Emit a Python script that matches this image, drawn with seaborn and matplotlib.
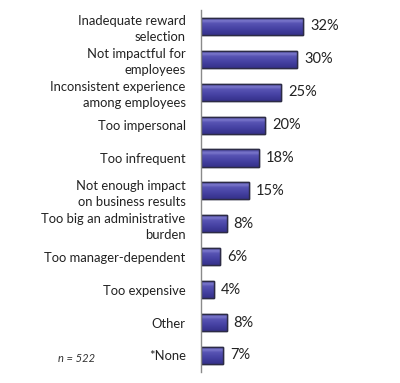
import matplotlib
matplotlib.use("Agg")
import matplotlib.pyplot as plt
from matplotlib.colors import LinearSegmentedColormap
import seaborn as sns
import pandas as pd
import numpy as np

categories = [
    "Inadequate reward\nselection",
    "Not impactful for\nemployees",
    "Inconsistent experience\namong employees",
    "Too impersonal",
    "Too infrequent",
    "Not enough impact\non business results",
    "Too big an administrative\nburden",
    "Too manager-dependent",
    "Too expensive",
    "Other",
    "*None",
]
values = [32, 30, 25, 20, 18, 15, 8, 6, 4, 8, 7]
value_labels = ["32%", "30%", "25%", "20%", "18%", "15%", "8%", "6%", "4%", "8%", "7%"]
note = "n = 522"

sns.set_style("white")
plt.rcParams["font.family"] = ["Lato", "DejaVu Sans"]

df = pd.DataFrame({"category": categories, "value": values})

fig = plt.figure(figsize=(4.0, 3.83), dpi=100)
ax = fig.add_axes([0.5025, 0.029, 0.40, 0.945])

sns.barplot(data=df, x="value", y="category", orient="h", ax=ax,
            color="#46419c", edgecolor="#2c2b45", linewidth=1.0,
            width=0.52, saturation=1)

# glossy vertical gradient on each bar, clipped to the bar shape
cmap = LinearSegmentedColormap.from_list(
    "gloss", [(0.0, "#3e3a96"), (0.2, "#7b78cc"), (0.35, "#5753b3"),
              (0.7, "#433fa0"), (1.0, "#35318a")])
grad = np.linspace(0, 1, 64).reshape(-1, 1)
for p in ax.patches:
    x0, y0 = p.get_x(), p.get_y()
    w, h = p.get_width(), p.get_height()
    im = ax.imshow(grad, cmap=cmap, aspect="auto",
                   extent=(x0, x0 + w, y0 + h, y0), origin="upper",
                   zorder=p.get_zorder() + 0.1, interpolation="bilinear")
    im.set_clip_path(p)
    edge = plt.Rectangle((x0, y0), w, h, fill=False, edgecolor="#2c2b45",
                         linewidth=1.0, zorder=p.get_zorder() + 0.2)
    ax.add_patch(edge)

ax.set_xlim(0, 50)
ax.set_ylim(len(categories) - 0.5, -0.5)
ax.set_xlabel("")
ax.set_ylabel("")
ax.set_xticks([])
for s in ["top", "right", "bottom"]:
    ax.spines[s].set_visible(False)
ax.spines["left"].set_color("#8a8a8a")
ax.spines["left"].set_linewidth(1.0)
ax.spines["left"].set_zorder(5)

ax.set_yticks(np.arange(len(categories)))
ax.set_yticklabels(categories, fontsize=9.4, color="#222222", linespacing=1.38)
ax.tick_params(axis="y", which="major", length=0, pad=11)
ax.set_yticks(np.arange(-0.5, len(categories)), minor=True)
ax.tick_params(axis="y", which="minor", length=4, width=1, color="#8a8a8a", direction="out")

for i, (v, lab) in enumerate(zip(values, value_labels)):
    ax.text(v + 2.2, i, lab, va="center", ha="left", fontsize=10.5, color="#222222")

fig.text(0.145, 0.063, note, fontsize=8, style="italic", color="#333333", ha="left", va="center")

fig.savefig("out.png", dpi=100, facecolor="white")
